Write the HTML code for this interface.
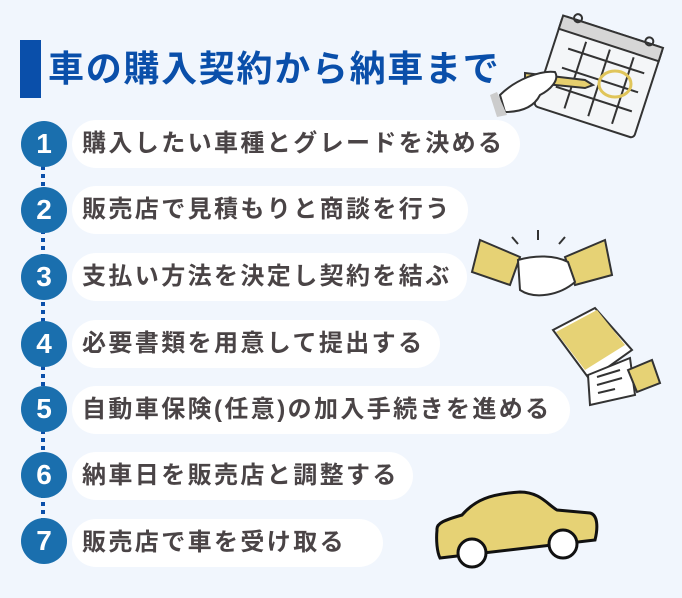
<!DOCTYPE html><html><head><meta charset="utf-8"><style>
body{margin:0;width:682px;height:598px;background:#f1f6fd;position:relative;overflow:hidden;font-family:"Liberation Sans","Noto Sans CJK JP",sans-serif}
.bar{position:absolute;left:20px;top:40px;width:21px;height:58px;background:#0a4faa}
.title{position:absolute;left:48px;top:44px;font-size:36px;font-weight:bold;color:#0a4faa;line-height:50px;white-space:nowrap;letter-spacing:1.7px}
.pill{position:absolute;left:72px;height:48px;background:#fff;border-radius:24px;font-size:24px;font-weight:bold;color:#4a4446;line-height:48px;padding-left:10px;letter-spacing:2.4px;white-space:nowrap;box-sizing:border-box}
.c{position:absolute;left:21px;width:46px;height:46px;border-radius:50%;background:#1a6fae;color:#fff;font-weight:bold;font-size:28px;line-height:46px;text-align:center;font-family:"Liberation Sans",sans-serif}
.dl{position:absolute;left:41px;width:4px;top:150px;height:380px;background:repeating-linear-gradient(#0a4faa 0 4px,transparent 4px 8px)}
</style></head><body>
<div class="bar"></div>
<div class="title">車の購入契約から納車まで</div>
<div class="dl"></div>
<div class="pill" style="top:120px;width:448px">購入したい車種とグレードを決める</div>
<div class="pill" style="top:186px;width:396px">販売店で見積もりと商談を行う</div>
<div class="pill" style="top:253px;width:395px">支払い方法を決定し契約を結ぶ</div>
<div class="pill" style="top:320px;width:368px">必要書類を用意して提出する</div>
<div class="pill" style="top:386px;width:498px">自動車保険(任意)の加入手続きを進める</div>
<div class="pill" style="top:452px;width:341px">納車日を販売店と調整する</div>
<div class="pill" style="top:519px;width:311px">販売店で車を受け取る</div>
<div class="c" style="top:121px">1</div>
<div class="c" style="top:187px">2</div>
<div class="c" style="top:254px">3</div>
<div class="c" style="top:321px">4</div>
<div class="c" style="top:386px">5</div>
<div class="c" style="top:452px">6</div>
<div class="c" style="top:518px">7</div>
<svg width="682" height="598" style="position:absolute;left:0;top:0" fill="none" stroke="#333" stroke-width="2">
<g transform="rotate(18 600 80)">
<rect x="545" y="30" width="105" height="95" rx="4" fill="#f4f6f8"/>
<rect x="545" y="30" width="105" height="14" fill="#d6d6d6"/>
<line x1="560" y1="60" x2="640" y2="60"/><line x1="560" y1="80" x2="640" y2="80"/><line x1="560" y1="100" x2="640" y2="100"/>
<line x1="575" y1="48" x2="575" y2="118"/><line x1="600" y1="48" x2="600" y2="118"/><line x1="625" y1="48" x2="625" y2="118"/>
<circle cx="560" cy="28" r="4"/><circle cx="635" cy="28" r="4"/>
</g>
<ellipse cx="615" cy="84" rx="16" ry="13" stroke="#e0c55a" stroke-width="3"/>
<path d="M525 73 L585 80 L593 85 L585 88 L525 82 Z" fill="#e6cf6e"/>
<path d="M500 95 C515 80 540 70 555 72 C560 80 550 90 540 95 C535 105 525 112 505 112 Z" fill="#fff"/>
<path d="M497 92 L507 115 L497 117 L490 95 Z" fill="#ccc" stroke="none"/>
<path d="M480 240 L520 257 L510 285 L472 272 Z" fill="#e6d275" stroke="#333"/>
<path d="M605 240 L565 257 L575 285 L612 275 Z" fill="#e6d275" stroke="#333"/>
<path d="M518 260 C535 255 555 255 568 262 L575 282 C560 295 535 300 520 290 Z" fill="#fff"/>
<line x1="538" y1="230" x2="538" y2="240"/><line x1="512" y1="237" x2="518" y2="244"/><line x1="565" y1="237" x2="559" y2="244"/>
<path d="M553 330 L595 308 L632 350 L590 380 Z" fill="#fff"/>
<path d="M556 332 L597 310 L625 345 L585 370 Z" fill="#e6d275" stroke="none"/>
<path d="M588 375 L630 358 L635 395 L590 405 Z" fill="#fff"/>
<line x1="597" y1="377" x2="620" y2="370"/><line x1="597" y1="385" x2="622" y2="378"/><line x1="598" y1="393" x2="615" y2="389"/>
<path d="M628 370 L652 360 L660 383 L637 392 Z" fill="#e6d275"/>
<path d="M437 530 C436 523 445 520 462 515 C475 500 490 494 520 492 C540 492 548 505 557 510 L590 513 C598 515 598 528 595 540 L440 558 C437 552 436 540 437 530 Z" fill="#e6d275" stroke="#111" stroke-width="3"/>
<circle cx="472" cy="553" r="14" fill="#fff" stroke="#111" stroke-width="3"/>
<circle cx="563" cy="544" r="14" fill="#fff" stroke="#111" stroke-width="3"/>
</svg>
</body></html>
